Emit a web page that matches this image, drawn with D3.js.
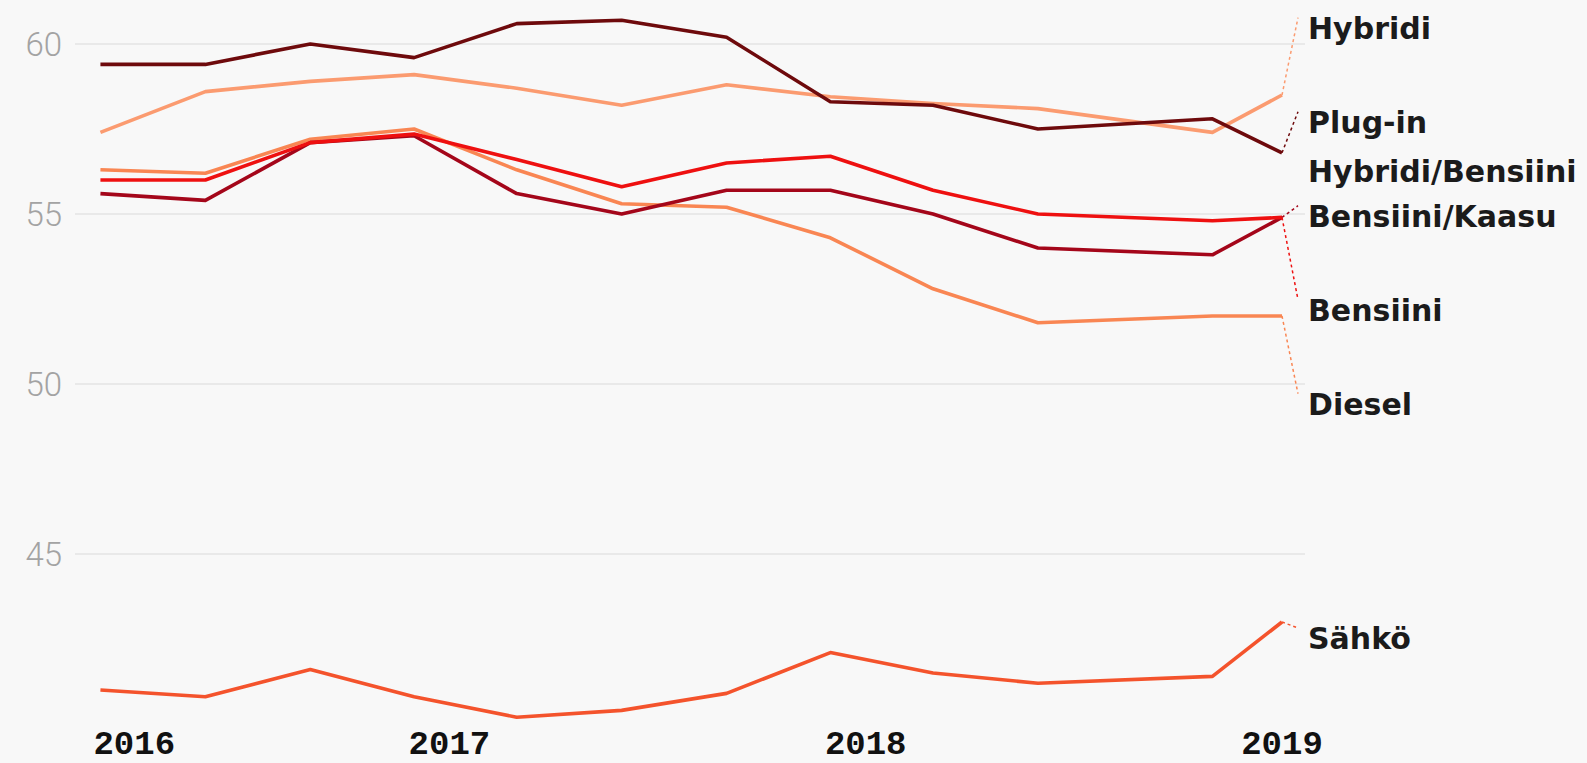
<head>
    <script src="https://cdnjs.cloudflare.com/ajax/libs/d3/7.8.5/d3.min.js"></script>
</head>

<style>
body {
    margin: 0;
    background: #f8f8f8;
    overflow: hidden;
}

.tick-y {
    font-family: Roboto, sans-serif;
    font-weight: 300;
    font-size: 33px;
    fill: #a3a3a3;
}

.tick-x {
    font-family: "Liberation Mono", monospace;
    font-weight: bold;
    font-size: 34px;
    fill: #111;
}

.label {
    font-family: "DejaVu Sans", sans-serif;
    font-weight: bold;
    font-size: 30px;
    fill: #1b1b1b;
}
</style>

<body>
    <svg id="chart"></svg>

<script>

const width = 1587, height = 763;

// data
const dates = ['2016-03-01', '2016-06-01', '2016-09-01', '2016-12-01',
    '2017-03-01', '2017-06-01', '2017-09-01', '2017-12-01',
    '2018-03-01', '2018-06-01', '2018-11-01', '2019-01-01'];
const yearTicks = ['2016-01-01', '2017-01-01', '2018-01-01', '2019-01-01'];
const yTicks = [45, 50, 55, 60];

const seriesNames = ['Hybridi', 'Plug-in Hybridi/Bensiini', 'Bensiini/Kaasu', 'Bensiini', 'Diesel', 'Sähkö'];
const hybridi       = [57.4, 58.6, 58.9, 59.1, 58.7, 58.2, 58.8, 58.45, 58.25, 58.1, 57.4, 58.5];
const plugIn        = [59.4, 59.4, 60.0, 59.6, 60.6, 60.7, 60.2, 58.3, 58.2, 57.5, 57.8, 56.8];
const bensiiniKaasu = [55.6, 55.4, 57.1, 57.3, 55.6, 55.0, 55.7, 55.7, 55.0, 54.0, 53.8, 54.9];
const bensiini      = [56.0, 56.0, 57.1, 57.35, 56.6, 55.8, 56.5, 56.7, 55.7, 55.0, 54.8, 54.9];
const diesel        = [56.3, 56.2, 57.2, 57.5, 56.3, 55.3, 55.2, 54.3, 52.8, 51.8, 52.0, 52.0];
const sahko         = [41.0, 40.8, 41.6, 40.8, 40.2, 40.4, 40.9, 42.1, 41.5, 41.2, 41.4, 43.0];

const seriesValues = [hybridi, plugIn, bensiiniKaasu, bensiini, diesel, sahko];
const palette = ['#fb9b70', '#6e0a0c', '#a4061a', '#ee1010', '#f98653', '#f4532c'];

const parse = d3.timeParse('%Y-%m-%d');

const series = seriesNames.map((name, i) => ({
    name: name,
    color: palette[i],
    points: dates.map((d, j) => ({ date: parse(d), value: seriesValues[i][j] }))
}));

// scales
const x = d3.scaleTime()
    .domain([parse('2016-01-01'), parse('2019-01-01')])
    .range([32, 1282]);
const y = d3.scaleLinear()
    .domain([40, 60])
    .range([724, 44]);

const svg = d3.select('svg#chart')
    .attr('width', width)
    .attr('height', height);

// grid + y labels
const gridG = svg.append('g');
gridG.selectAll('line.grid').data(yTicks).enter().append('line')
    .classed('grid', true)
    .attr('x1', 75)
    .attr('x2', x.range()[1] + 23)
    .attr('y1', d => y(d))
    .attr('y2', d => y(d))
    .attr('stroke', '#e4e4e4')
    .attr('stroke-width', 1.5);

gridG.selectAll('text.tick-y').data(yTicks).enter().append('text')
    .classed('tick-y', true)
    .attr('x', 62)
    .attr('y', d => y(d))
    .attr('dy', '0.36em')
    .attr('text-anchor', 'end')
    .text(d => d);

// year labels, the first one is kept inside the plot
const minX = x(parse(dates[0])) - 7;
svg.append('g').selectAll('text.tick-x').data(yearTicks).enter().append('text')
    .classed('tick-x', true)
    .attr('x', d => x(parse(d)))
    .attr('y', 754)
    .attr('text-anchor', 'middle')
    .text(d => d.slice(0, 4))
    .each(function() {
        const b = this.getBBox();
        if (b.x < minX) d3.select(this).attr('x', +d3.select(this).attr('x') + (minX - b.x));
    });

// lines
const line = d3.line()
    .x(d => x(d.date))
    .y(d => y(d.value));

const drawOrder = [4, 0, 5, 2, 3, 1];
svg.append('g').selectAll('path.line').data(drawOrder.map(i => series[i])).enter().append('path')
    .classed('line', true)
    .attr('d', d => line(d.points))
    .attr('fill', 'none')
    .attr('stroke', d => d.color)
    .attr('stroke-width', 3.6)
    .attr('stroke-linejoin', 'round');

// end labels, spread out so they don't collide
const GAP = 94;
const labels = series.map((s, i) => {
    const last = s.points[s.points.length - 1];
    return { s: s, order: i, x: x(last.date), target: y(last.value) };
}).sort((a, b) => (a.target - b.target) || (a.order - b.order));

const groups = [];
labels.forEach(d => {
    groups.push({ items: [d], sum: d.target, start: d.target });
    while (groups.length > 1) {
        const a = groups[groups.length - 2], b = groups[groups.length - 1];
        if (a.start + a.items.length * GAP <= b.start) break;
        const items = a.items.concat(b.items), sum = a.sum + b.sum;
        groups.splice(-2, 2, { items: items, sum: sum, start: sum / items.length - (items.length - 1) * GAP / 2 });
    }
});
groups.forEach(g => g.items.forEach((d, i) => { d.slot = g.start + i * GAP; }));

const labelG = svg.append('g');
labelG.selectAll('line.connector').data(labels).enter().append('line')
    .classed('connector', true)
    .attr('x1', d => d.x)
    .attr('y1', d => d.target)
    .attr('x2', d => d.x + 16)
    .attr('y2', d => d.slot + 6)
    .attr('stroke', d => d.s.color)
    .attr('stroke-width', 1.5)
    .attr('stroke-dasharray', '3,3');

labelG.selectAll('text.label').data(labels).enter().append('text')
    .classed('label', true)
    .attr('x', d => d.x + 26)
    .attr('y', d => d.slot + 16)
    .attr('dy', '0.36em')
    .each(function(d) {
        const name = d.s.name;
        const parts = name.length > 16 ? [name.slice(0, name.indexOf(' ')), name.slice(name.indexOf(' ') + 1)] : [name];
        d3.select(this).selectAll('tspan').data(parts).enter().append('tspan')
            .attr('x', d.x + 26)
            .attr('dy', (p, i) => i ? 49 : null)
            .text(p => p);
    });

</script>
</body>
</html>
